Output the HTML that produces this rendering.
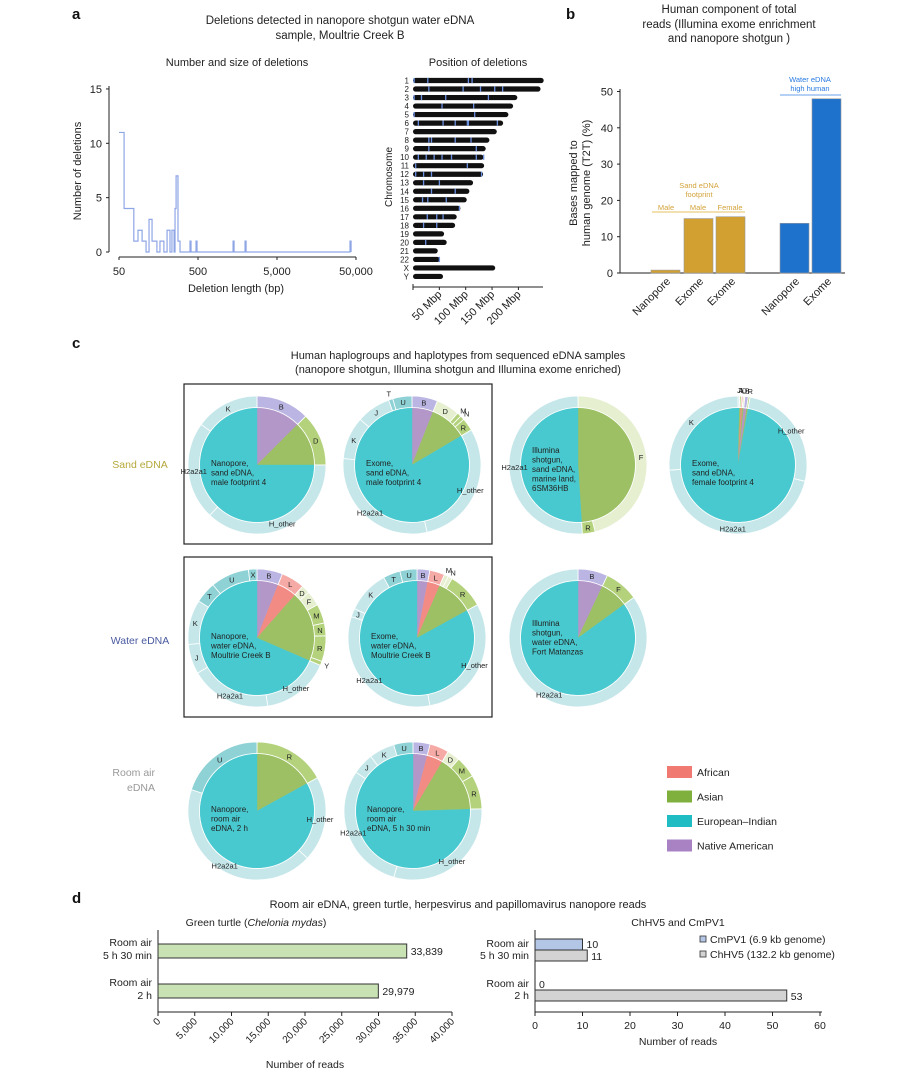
<!DOCTYPE html>
<html><head><meta charset="utf-8"><style>
html,body{margin:0;padding:0;background:#fff;}
svg{display:block;font-family:"Liberation Sans",sans-serif;}
</style></head><body>
<svg id="fig" width="917" height="1074" viewBox="0 0 917 1074" xmlns="http://www.w3.org/2000/svg">
<g font-weight="bold" font-size="15" fill="#111">
<text x="72" y="19">a</text>
<text x="566" y="19">b</text>
<text x="72" y="348">c</text>
<text x="72" y="903">d</text>
</g>
<g font-size="11.5" fill="#222" text-anchor="middle">
<text x="340" y="24">Deletions detected in nanopore shotgun water eDNA</text>
<text x="340" y="39">sample, Moultrie Creek B</text>
<text x="237" y="66" font-size="11">Number and size of deletions</text>
<text x="478" y="66" font-size="11">Position of deletions</text>
<text x="729" y="13">Human component of total</text>
<text x="729" y="28">reads (Illumina exome enrichment</text>
<text x="729" y="42">and nanopore shotgun )</text>
<text x="458" y="359" font-size="11">Human haplogroups and haplotypes from sequenced eDNA samples</text>
<text x="458" y="373" font-size="11">(nanopore shotgun, Illumina shotgun and Illumina exome enriched)</text>
<text x="458" y="908" font-size="11">Room air eDNA, green turtle, herpesvirus and papillomavirus nanopore reads</text>
</g>
<g id="ga"></g><g id="gchr"></g><g id="gb"></g><g id="gc"></g><g id="gd"></g>
</svg>
<script>
// ---------- Panel a data ----------
const histEdges = [50,58,77,87,98,110,120,131,151,165,185,203,221,234,249,256,264,279,296,396,408,472,486,1390,1430,1970,2030,42000,43300];
const histCounts = [11,4,1,2,1,0,3,1,0,1,0,2,0,2,0,4,7,1,0,1,0,1,0,1,0,1,0,1,0];
const histYTicks = [0,5,10,15];
const histXTicks = [50,500,5000,50000];
const histXTickLabels = ['50','500','5,000','50,000'];
const chrNames = ['1','2','3','4','5','6','7','8','9','10','11','12','13','14','15','16','17','18','19','20','21','22','X','Y'];
const chrLengths = [248,242,198,190,181,171,159,145,138,134,135,133,114,107,102,90,83,80,59,64,47,51,156,57];
const chrDeletions = [[2,28,105,112],[30,95,128,155,170],[2,16,62,143],[55,115],[2,117],[10,57,80,103,105,160],[],[30,35,80,110],[30,120],[10,25,40,55,73,120,134],[5,103],[5,20,35,130],[20,50],[35,80],[18,28,63],[88],[27,45,57],[20,45],[],[24],[],[50],[],[]];
const chrTicks = [50,100,150,200];
// ---------- Panel b data ----------
const bCats = ['Nanopore','Exome','Exome','Nanopore','Exome'];
const bValues = [0.8,15,15.5,13.7,48];
const bGroups = ['sand','sand','sand','water','water'];
const bYTicks = [0,10,20,30,40,50];
// ---------- Panel c data ----------
const pieLabels = [
 ['B','D','H_other','H2a2a1','K'],
 ['B','D','M','N','R','H_other','H2a2a1','K','J','T','U'],
 ['F','R','H2a2a1'],
 ['J','A','L','D','B','R','H_other','H2a2a1','K'],
 ['B','L','D','F','M','N','R','Y','H_other','H2a2a1','J','K','T','U','X'],
 ['B','L','M','N','R','H_other','H2a2a1','J','K','T','U'],
 ['B','F','H2a2a1'],
 ['R','H_other','H2a2a1','U'],
 ['B','L','D','M','R','H_other','H2a2a1','J','K','U']];
const pieValues = [
 [0.125,0.125,0.37,0.23,0.15],
 [0.06,0.055,0.01,0.01,0.03,0.3,0.3,0.1,0.08,0.01,0.045],
 [0.46,0.03,0.51],
 [0.004,0.004,0.004,0.004,0.008,0.004,0.26,0.45,0.262],
 [0.06,0.055,0.02,0.035,0.045,0.03,0.06,0.01,0.16,0.19,0.07,0.105,0.05,0.09,0.02],
 [0.03,0.035,0.01,0.01,0.085,0.3,0.33,0.02,0.1,0.04,0.04],
 [0.07,0.08,0.85],
 [0.17,0.2,0.43,0.2],
 [0.04,0.045,0.03,0.05,0.08,0.3,0.3,0.05,0.06,0.045]];
const pieCats = [
 ['P','G','T','T','T'],
 ['P','L','G','G','G','T','T','T','T','D','D'],
 ['L','G','T'],
 ['T','G','R','L','P','G','T','T','T'],
 ['P','R','L','L','G','G','G','G','T','T','T','T','D','D','D'],
 ['P','R','L','L','G','T','T','T','T','D','D'],
 ['P','G','T'],
 ['G','T','T','D'],
 ['P','R','L','G','G','T','T','T','T','D']];
const pieTexts = [
 ['Nanopore,','sand eDNA,','male footprint 4'],
 ['Exome,','sand eDNA,','male footprint 4'],
 ['Illumina','shotgun,','sand eDNA,','marine land,','6SM36HB'],
 ['Exome,','sand eDNA,','female footprint 4'],
 ['Nanopore,','water eDNA,','Moultrie Creek B'],
 ['Exome,','water eDNA,','Moultrie Creek B'],
 ['Illumina','shotgun,','water eDNA,','Fort Matanzas'],
 ['Nanopore,','room air','eDNA, 2 h'],
 ['Nanopore,','room air','eDNA, 5 h 30 min']];
const legendNames = ['African','Asian','European\u2013Indian','Native American'];
// ---------- Panel d data ----------
const turtleCats = ['Room air|5 h 30 min','Room air|2 h'];
const turtleValues = [33839,29979];
const turtleTicks = [0,5000,10000,15000,20000,25000,30000,35000,40000];
const virusCats = ['Room air|5 h 30 min','Room air|2 h'];
const cmpv1Values = [10,0];
const chhv5Values = [11,53];
const virusTicks = [0,10,20,30,40,50,60];

const NS='http://www.w3.org/2000/svg';
function mk(parent,tag,attrs,txt){const e=document.createElementNS(NS,tag);for(const k in attrs)e.setAttribute(k,attrs[k]);if(txt!==undefined)e.textContent=txt;parent.appendChild(e);return e;}
const fmt=n=>n.toLocaleString('en-US');

// ===== Panel a histogram =====
(function(){
 const g=document.getElementById('ga');
 const x=v=>119+79*Math.log10(v/50), y=v=>252-10.87*v;
 let e=mk(g,'line',{x1:109,y1:86,x2:109,y2:252,stroke:'#222','stroke-width':1});
 
 
 e=mk(g,'line',{x1:119,y1:257,x2:356,y2:257,stroke:'#222','stroke-width':1});
 
 
 histYTicks.forEach(t=>{mk(g,'line',{x1:106,x2:109,y1:y(t),y2:y(t),stroke:'#222'});
  e=mk(g,'text',{x:102,y:y(t)+4,'text-anchor':'end','font-size':11,fill:'#222'},t);
  
  });
 histXTicks.forEach((t,i)=>{mk(g,'line',{x1:x(t),x2:x(t),y1:257,y2:260,stroke:'#222'});
  e=mk(g,'text',{x:x(t),y:275,'text-anchor':'middle','font-size':11,fill:'#222'},histXTickLabels[i]);
  
  });
 e=mk(g,'text',{x:236,y:292,'text-anchor':'middle','font-size':11,fill:'#222'},'Deletion length (bp)');
 
 
 e=mk(g,'text',{x:0,y:0,transform:'translate(81,171) rotate(-90)','text-anchor':'middle','font-size':11,fill:'#222'},'Number of deletions');
 
 
 let d='M'+x(histEdges[0])+' '+y(histCounts[0]);
 for(let i=0;i<histCounts.length;i++){const xe=x(histEdges[i]);d+=' L'+xe+' '+y(histCounts[i]);if(i+1<histEdges.length)d+=' L'+x(histEdges[i+1])+' '+y(histCounts[i]);}
 e=mk(g,'path',{d:d,fill:'none',stroke:'#8fa6e6','stroke-width':1.2});
 
 
})();

// ===== chromosome ideogram =====
(function(){
 const g=document.getElementById('gchr');
 const x=v=>413+0.527*v;
 chrNames.forEach((n,i)=>{const yy=80.5+i*8.52;
  let e=mk(g,'text',{x:409,y:yy+3,'text-anchor':'end','font-size':8,fill:'#222'},n);
  
  
  e=mk(g,'rect',{x:x(0),y:yy-2.6,width:x(chrLengths[i])-x(0),height:5.2,rx:2.6,fill:'#111'});
  
  
  chrDeletions[i].forEach(p=>{const m=mk(g,'rect',{x:x(p)-0.6,y:yy-2.6,width:1.3,height:5.2,fill:'#6a8fe0'});
   
   });
 });
 let e=mk(g,'line',{x1:413,x2:543,y1:287,y2:287,stroke:'#222'});
 
 
 mk(g,'line',{x1:413,x2:413,y1:284,y2:290,stroke:'#222'});
 chrTicks.forEach(t=>{mk(g,'line',{x1:x(t),x2:x(t),y1:287,y2:290,stroke:'#222'});
  e=mk(g,'text',{x:0,y:0,transform:`translate(${x(t)+3},${295}) rotate(-45)`,'text-anchor':'end','font-size':11,fill:'#222'},t+' Mbp');
  
  });
 e=mk(g,'text',{x:0,y:0,transform:'translate(392,177) rotate(-90)','text-anchor':'middle','font-size':10,fill:'#222'},'Chromosome');
 
 
})();

// ===== Panel b =====
(function(){
 const g=document.getElementById('gb');
 const y=v=>273-3.63*v;
 const xs=[651,684,716,780,812];
 let e=mk(g,'line',{x1:620,x2:620,y1:89,y2:273,stroke:'#222'});
 
 
 e=mk(g,'line',{x1:620,x2:845,y1:273,y2:273,stroke:'#222'});
 
 
 bYTicks.forEach(t=>{mk(g,'line',{x1:617,x2:620,y1:y(t),y2:y(t),stroke:'#222'});
  e=mk(g,'text',{x:613,y:y(t)+4,'text-anchor':'end','font-size':11,fill:'#222'},t);
  
  });
 bValues.forEach((v,i)=>{e=mk(g,'rect',{x:xs[i],y:y(v),width:29,height:273-y(v),fill:bGroups[i]=='sand'?'#d1a030':'#1f72cc',stroke:'#999','stroke-width':0.6});
  
  
  e=mk(g,'text',{x:0,y:0,transform:`translate(${xs[i]+20},${282}) rotate(-45)`,'text-anchor':'end','font-size':11,fill:'#222'},bCats[i]);
  
  });
 e=mk(g,'text',{x:0,y:0,transform:'translate(577,183) rotate(-90)','text-anchor':'middle','font-size':11,fill:'#222'},'Bases mapped to');
 
 
 mk(g,'text',{x:0,y:0,transform:'translate(590,183) rotate(-90)','text-anchor':'middle','font-size':11,fill:'#222'},'human genome (T2T) (%)');
 const gold='#d3a33a';
 mk(g,'text',{x:699,y:188,'text-anchor':'middle','font-size':7.5,fill:gold},'Sand eDNA');
 mk(g,'text',{x:699,y:197,'text-anchor':'middle','font-size':7.5,fill:gold},'footprint');
 [['Male',666],['Male',698],['Female',730]].forEach(a=>mk(g,'text',{x:a[1],y:210,'text-anchor':'middle','font-size':7.5,fill:gold},a[0]));
 mk(g,'line',{x1:652,x2:745,y1:212,y2:212,stroke:'#e5c060'});
 mk(g,'text',{x:810,y:82,'text-anchor':'middle','font-size':7.5,fill:'#2a7be0'},'Water eDNA');
 mk(g,'text',{x:810,y:91,'text-anchor':'middle','font-size':7.5,fill:'#2a7be0'},'high human');
 mk(g,'line',{x1:780,x2:841,y1:95,y2:95,stroke:'#6aa0e8'});
})();

// ===== Panel c pies =====
(function(){
 const g=document.getElementById('gc');
 const inner={P:'#b497c9',R:'#f28b84',G:'#9cc063',L:'#9cc063',T:'#48c9cf',D:'#48c9cf'};
 const outer={P:'#bab5e2',R:'#f6aaa6',G:'#b4d27c',L:'#e6efd0',T:'#c6e7ea',D:'#8fd2d6'};
 const centers=[[257,465],[412,465],[578,465],[738,465],[257,638],[417,638],[578,638],[257,811],[413,811]];
 let e=mk(g,'rect',{x:184,y:384,width:308,height:160,fill:'none',stroke:'#222','stroke-width':1.2});
 
 
 e=mk(g,'rect',{x:184,y:557,width:308,height:160,fill:'none',stroke:'#222','stroke-width':1.2});
 
 
 function arc(cx,cy,r0,r1,a0,a1){const A=f=>f*2*Math.PI-Math.PI/2;const p=(r,a)=>[cx+r*Math.cos(A(a)),cy+r*Math.sin(A(a))];
  if(a1-a0>=0.9999){a1=a0+0.9999;}
  const lg=(a1-a0)>0.5?1:0;const s1=p(r1,a0),e1=p(r1,a1);
  if(r0==0){return `M${cx} ${cy} L${s1[0]} ${s1[1]} A${r1} ${r1} 0 ${lg} 1 ${e1[0]} ${e1[1]} Z`;}
  const s0=p(r0,a1),e0=p(r0,a0);
  return `M${s1[0]} ${s1[1]} A${r1} ${r1} 0 ${lg} 1 ${e1[0]} ${e1[1]} L${s0[0]} ${s0[1]} A${r0} ${r0} 0 ${lg} 0 ${e0[0]} ${e0[1]} Z`;}
 pieValues.forEach((vals,pi)=>{const [cx,cy]=centers[pi];
  const grp=mk(g,'g',{});
  
  
  // inner: merge consecutive same-colour slices
  let a=0, runStart=0, runCol=null;
  const runs=[];
  vals.forEach((v,i)=>{const col=inner[pieCats[pi][i]];
   if(col!==runCol){if(runCol!==null)runs.push([runStart,a,runCol]);runStart=a;runCol=col;}
   a+=v;});
  runs.push([runStart,a,runCol]);
  runs.forEach(r=>{const s=mk(grp,'path',{d:arc(cx,cy,0,57,r[0],r[1]),fill:r[2],stroke:r[2],'stroke-width':0.4});
   
   });
  a=0;
  vals.forEach((v,i)=>{const c=pieCats[pi][i];
   let s=mk(grp,'path',{d:arc(cx,cy,57.5,69,a,a+v),fill:outer[c],stroke:'#fff','stroke-width':0.8});
   
   
   const m=(a+v/2)*2*Math.PI-Math.PI/2, small=v<0.02, r=small?75:63.5;
   s=mk(grp,'text',{x:cx+r*Math.cos(m),y:cy+r*Math.sin(m)+3,'text-anchor':'middle','font-size':7.5,fill:'#222'},pieLabels[pi][i]);
   
   
   a+=v;});
  pieTexts[pi].forEach((t,j)=>{const nl=pieTexts[pi].length;
   const s=mk(grp,'text',{x:cx-46,y:cy-(nl>3?12:-1)+j*9.5,'font-size':8,fill:'#222'},t);
   
   });
 });
 e=mk(g,'text',{x:140,y:468,'text-anchor':'middle','font-size':10.5,fill:'#b5a83a'},'Sand eDNA');
 
 
 e=mk(g,'text',{x:140,y:644,'text-anchor':'middle','font-size':10.5,fill:'#4a5aa0'},'Water eDNA');
 
 
 e=mk(g,'text',{x:155,y:776,'text-anchor':'end','font-size':10.5,fill:'#999'},'Room air');
 
 
 mk(g,'text',{x:155,y:791,'text-anchor':'end','font-size':10.5,fill:'#999'},'eDNA');
 const lc=['#f07a72','#7fb03e','#20bcc4','#a982c4'];
 legendNames.forEach((n,i)=>{const yy=766+i*24.5;
  let s=mk(g,'rect',{x:667,y:yy,width:25,height:12,fill:lc[i]});
  
  
  s=mk(g,'text',{x:697,y:yy+10,'font-size':10.5,fill:'#222'},n);
  
  });
})();

// ===== Panel d =====
(function(){
 const g=document.getElementById('gd');
 const xl=v=>158+0.00735*v;
 const rowY=[944,984];
 let e=mk(g,'text',{x:256,y:926,'text-anchor':'middle','font-size':10.5,fill:'#222'});
 e.innerHTML='Green turtle (<tspan font-style="italic">Chelonia mydas</tspan>)';
 
 
 mk(g,'line',{x1:158,x2:158,y1:930,y2:1012,stroke:'#222'});
 e=mk(g,'line',{x1:158,x2:452,y1:1012,y2:1012,stroke:'#222'});
 
 
 turtleTicks.forEach(t=>{mk(g,'line',{x1:xl(t),x2:xl(t),y1:1012,y2:1016,stroke:'#222'});
  e=mk(g,'text',{x:0,y:0,transform:`translate(${xl(t)+3},${1022}) rotate(-45)`,'text-anchor':'end','font-size':10,fill:'#222'},fmt(t));
  
  });
 turtleValues.forEach((v,i)=>{e=mk(g,'rect',{x:158,y:rowY[i],width:xl(v)-158,height:14,fill:'#c8e2b3',stroke:'#333','stroke-width':1});
  
  
  e=mk(g,'text',{x:xl(v)+4,y:rowY[i]+11,'font-size':10.5,fill:'#222'},fmt(v));
  
  
  turtleCats[i].split('|').forEach((t,j)=>mk(g,'text',{x:152,y:rowY[i]+2+j*13,'text-anchor':'end','font-size':10.5,fill:'#222'},t));});
 e=mk(g,'text',{x:305,y:1068,'text-anchor':'middle','font-size':10.5,fill:'#222'},'Number of reads');
 
 
 const xr=v=>535+4.75*v;
 e=mk(g,'text',{x:678,y:926,'text-anchor':'middle','font-size':10.5,fill:'#222'},'ChHV5 and CmPV1');
 
 
 mk(g,'line',{x1:535,x2:535,y1:930,y2:1012,stroke:'#222'});
 e=mk(g,'line',{x1:535,x2:822,y1:1012,y2:1012,stroke:'#222'});
 
 
 virusTicks.forEach(t=>{mk(g,'line',{x1:xr(t),x2:xr(t),y1:1012,y2:1016,stroke:'#222'});
  e=mk(g,'text',{x:xr(t),y:1029,'text-anchor':'middle','font-size':10.5,fill:'#222'},t);
  
  });
 const vY=[939,979];
 virusCats.forEach((c,i)=>{
  e=mk(g,'rect',{x:535,y:vY[i],width:xr(cmpv1Values[i])-535,height:11,fill:'#b3c6e6',stroke:'#333'});
  
  
  e=mk(g,'text',{x:xr(cmpv1Values[i])+4,y:vY[i]+9,'font-size':10.5,fill:'#222'},cmpv1Values[i]);
  
  
  e=mk(g,'rect',{x:535,y:vY[i]+11,width:xr(chhv5Values[i])-535,height:11,fill:'#d3d3d3',stroke:'#333'});
  
  
  e=mk(g,'text',{x:xr(chhv5Values[i])+4,y:vY[i]+21,'font-size':10.5,fill:'#222'},chhv5Values[i]);
  
  
  c.split('|').forEach((t,j)=>mk(g,'text',{x:529,y:vY[i]+8+j*12,'text-anchor':'end','font-size':10.5,fill:'#222'},t));});
 [['CmPV1 (6.9 kb genome)','#b3c6e6'],['ChHV5 (132.2 kb genome)','#d3d3d3']].forEach((l,i)=>{
  e=mk(g,'rect',{x:700,y:936+i*15,width:6,height:6,fill:l[1],stroke:'#333','stroke-width':0.8});
  
  
  e=mk(g,'text',{x:710,y:943+i*15,'font-size':10.5,fill:'#222'},l[0]);
  
  });
 e=mk(g,'text',{x:678,y:1045,'text-anchor':'middle','font-size':10.5,fill:'#222'},'Number of reads');
 
 
})();
</script>
</body></html>
